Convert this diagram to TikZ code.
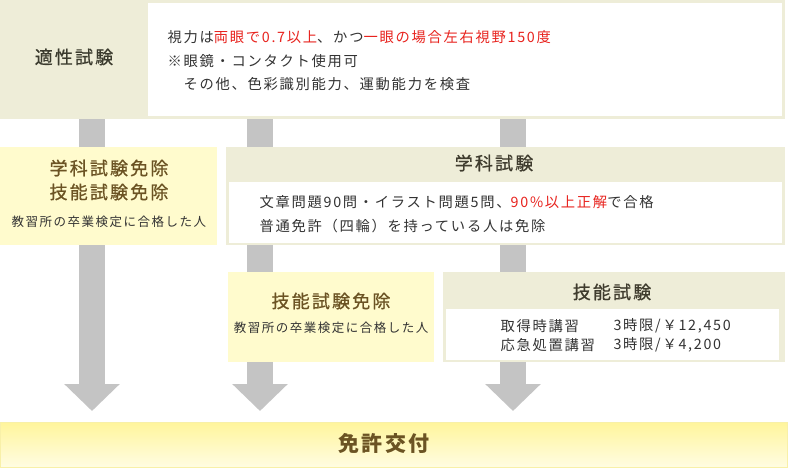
\documentclass[tikz,border=0pt]{standalone}
\usepackage{fontspec}
\setmainfont{Noto Sans CJK JP}[LetterSpace=12]
\newfontfamily\jpmedium{Noto Sans CJK JP}[LetterSpace=12,FakeBold=0.8]
\usetikzlibrary{arrows.meta,backgrounds}

\definecolor{beige}{HTML}{EEEDD8}
\definecolor{paleyellow}{HTML}{FFFBCD}
\definecolor{bargray}{HTML}{C4C4C4}
\definecolor{alert}{HTML}{E8231E}
\definecolor{ink}{HTML}{333333}
\definecolor{titlebrown}{HTML}{6B5323}
\definecolor{headink}{HTML}{3F3C2E}
\definecolor{goldtop}{HTML}{FFF59C}
\definecolor{goldbottom}{HTML}{FFFCE2}
\definecolor{goldline}{HTML}{F8F0A8}

\begin{document}
\begin{tikzpicture}[x=1pt,y=-1pt,
  panel/.style={rectangle,inner sep=0pt,anchor=north west,fill=#1},
  title/.style={font=\fontsize{18}{24}\jpmedium\selectfont,text=titlebrown,align=center},
  head/.style={font=\fontsize{18}{22}\jpmedium\selectfont,text=headink},
  body/.style={font=\fontsize{14.3}{23.5}\selectfont,text=ink,align=left,anchor=west},
  note/.style={font=\fontsize{12.5}{15}\selectfont,text=ink},
  flow/.style={line width=26pt,draw=bargray,-{Triangle[width=54pt,length=27pt]},shorten >=11pt}]
\useasboundingbox (0,0) rectangle (790,469);

% top: aptitude test
\node[panel=beige,minimum width=785pt,minimum height=119pt] (tekisei) at (0,0) {};
\node[panel=white,minimum width=634pt,minimum height=113pt] (tekiseinote) at (148,3) {};
\node[head,text=ink!90!olive] (tekiseilabel) at (74,57) {適性試験};
\node[body] (tekiseitext) at (164,61) {視力は\textcolor{alert}{両眼で0.7以上}、かつ\textcolor{alert}{一眼の場合左右視野150度}\\
  ※眼鏡・コンタクト使用可\\
  　その他、色彩識別能力、運動能力を検査};

% middle row
\node[panel=paleyellow,minimum width=217pt,minimum height=98pt] (menjo) at (0,147) {};
\node[title] (menjolabel) at (109,180) {学科試験免除\\技能試験免除};
\node[note] (menjonote) at (109,222) {教習所の卒業検定に合格した人};

\node[panel=beige,minimum width=559pt,minimum height=98pt] (gakka) at (226,147) {};
\node[panel=white,minimum width=553pt,minimum height=61pt] (gakkanote) at (229,182) {};
\node[head] (gakkalabel) at (494,163) {学科試験};
\node[body,font=\fontsize{14.3}{24}\selectfont] (gakkatext) at (256,214) {文章問題90問・イラスト問題5問、\textcolor{alert}{90\%以上正解}で合格\\
  普通免許（四輪）を持っている人は免除};

% lower row
\node[panel=paleyellow,minimum width=206pt,minimum height=90pt] (ginomenjo) at (228,272) {};
\node[title] (ginomenjolabel) at (331,301) {技能試験免除};
\node[note] (ginomenjonote) at (331,328) {教習所の卒業検定に合格した人};

\node[panel=beige,minimum width=342pt,minimum height=90pt] (gino) at (443,272) {};
\node[panel=white,minimum width=333pt,minimum height=51pt] (ginonote) at (446,309) {};
\node[head] (ginolabel) at (612,292) {技能試験};
\node[body] (shutoku) at (497,326) {取得時講習};
\node[body] (shutokufee) at (610,326) {3時限/￥12,450};
\node[body] (oukyu) at (497,345) {応急処置講習};
\node[body] (oukyufee) at (610,345) {3時限/￥4,200};

% bottom: licence issued
\node[panel=white,top color=goldtop,bottom color=goldbottom,draw=goldline,minimum width=787pt,minimum height=45pt] (kofu) at (0,422) {};
\node[font=\fontsize{21}{24}\selectfont\bfseries,text=titlebrown] (kofulabel) at (384,443) {免許交付};

% gray flow arrows behind the boxes
\coordinate (lane1) at (92,0);
\coordinate (lane2) at (260,0);
\coordinate (lane3) at (513,0);
\begin{scope}[on background layer]
  \draw[flow] (lane1 |- tekisei.south) -- (lane1 |- kofu.north);
  \draw[flow] (lane2 |- tekisei.south) -- (lane2 |- kofu.north);
  \draw[flow] (lane3 |- tekisei.south) -- (lane3 |- kofu.north);
\end{scope}
\end{tikzpicture}
\end{document}
